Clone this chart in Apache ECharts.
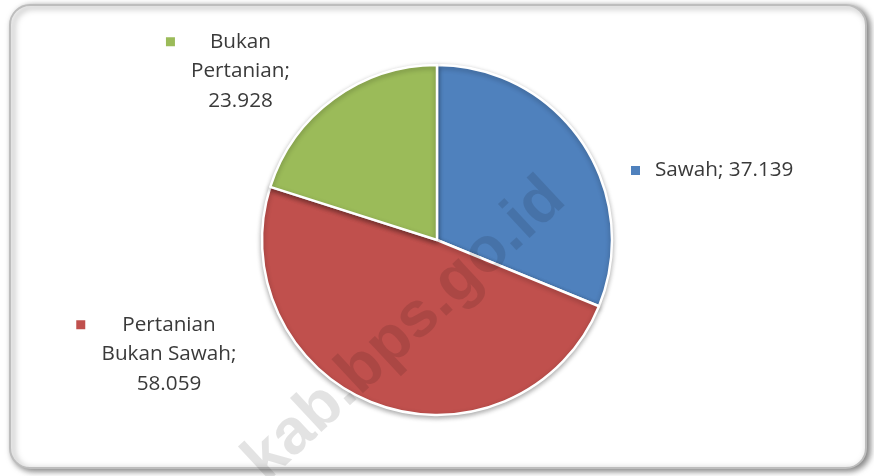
<!DOCTYPE html>
<html>
<head>
<meta charset="utf-8">
<script src="https://cdn.jsdelivr.net/npm/echarts@6/dist/echarts.min.js"></script>
<style>
  html, body { margin: 0; padding: 0; background: #fff; }
  #pie-chart { width: 874px; height: 476px; }
</style>
</head>
<body>
<div id="pie-chart"></div>
<script>
// luas lahan per jenis penggunaan
const categories = ['Sawah', 'Pertanian Bukan Sawah', 'Bukan Pertanian']
const values = [37.139, 58.059, 23.928]

const colors = ['#4F81BD', '#C0504D', '#9BBB59']
// where each label block sits (x, y, align, gap between key square and text)
const labelSpots = [
    { x: 631, y: 170.5, align: 'left', verticalAlign: 'middle', gap: 15 },
    { x: 169, y: 310, align: 'center', verticalAlign: 'top', gap: 37 },
    { x: 240.5, y: 27, align: 'center', verticalAlign: 'top', gap: 35 }
]

const rich = {}
colors.forEach((c, i) => {
    rich['sq' + i] = { width: 9, height: 9, backgroundColor: c, verticalAlign: 'middle', lineHeight: 29.5 }
    rich['g' + i] = { width: labelSpots[i].gap, lineHeight: 29.5 }
    rich['p' + i] = { width: labelSpots[i].gap + 9, lineHeight: 29.5 }
})
rich.t = { fontFamily: 'Open Sans', fontSize: 20.7, color: '#3a3a3a', lineHeight: 29.5 }

const pieChart = echarts.init(document.querySelector('#pie-chart'))
pieChart.setOption({
    animation: false,
    graphic: [
        {
            type: 'rect',
            z: -10,
            shape: { x: 10, y: 5, width: 856, height: 463, r: 20 },
            style: {
                fill: '#fff',
                stroke: '#bdbdbd',
                lineWidth: 2,
                shadowBlur: 6,
                shadowOffsetX: 3,
                shadowOffsetY: 2,
                shadowColor: 'rgba(0,0,0,0.5)'
            }
        },
        {
            type: 'text',
            z: 100,
            x: 405,
            y: 330,
            rotation: 0.75,
            style: {
                text: 'kab.bps.go.id',
                font: 'bold 64px "Liberation Sans"',
                fill: 'rgba(0,0,0,0.11)',
                align: 'center',
                verticalAlign: 'middle'
            }
        }
    ],
    series: [
        {
            type: 'pie',
            center: [437, 240],
            radius: 175,
            startAngle: 90,
            color: colors,
            silent: true,
            itemStyle: {
                borderColor: '#fff',
                borderWidth: 2.5,
                shadowBlur: 5,
                shadowOffsetY: 2,
                shadowColor: 'rgba(0,0,0,0.3)'
            },
            label: {
                show: true,
                position: 'outside',
                rich: rich,
                formatter(p) {
                    const i = p.dataIndex
                    const v = p.value.toFixed(3)
                    const words = p.name.split(' ')
                    if (words.length === 1) {
                        return `{sq${i}| }{g${i}| }{t|${p.name}; ${v}}`
                    }
                    const first = words[0]
                    const rest = words.slice(1).join(' ')
                    return `{sq${i}| }{g${i}| }{t|${first}}{p${i}| }\n{t|${rest};}\n{t|${v}}`
                }
            },
            labelLine: { show: false },
            labelLayout(params) {
                const s = labelSpots[params.dataIndex]
                return { x: s.x, y: s.y, align: s.align, verticalAlign: s.verticalAlign }
            },
            data: categories.map((name, i) => ({ name: name, value: values[i] }))
        }
    ]
})
</script>
</body>
</html>
